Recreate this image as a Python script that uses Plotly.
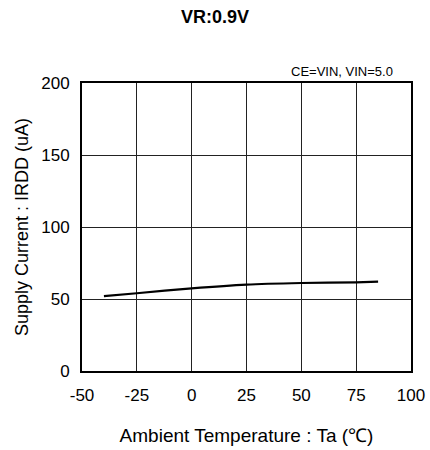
import plotly.graph_objects as go

temps = [-40, -25, 0, 25, 50, 75, 85]
irdd = [52.0, 54.0, 57.4, 60.0, 61.1, 61.6, 62.0]
x_ticks = [-50, -25, 0, 25, 50, 75, 100]
x_tick_text = ["-50", "-25", "0", "25", "50", "75", "100"]
y_ticks = [0, 50, 100, 150, 200]
y_tick_text = ["0", "50", "100", "150", "200"]

FONT = "Liberation Sans, Arial, sans-serif"
W, H = 430, 450

fig = go.Figure()
fig.add_trace(go.Scatter(x=temps, y=irdd, mode="lines",
                         line=dict(color="black", width=2.2, shape="spline", smoothing=0.6),
                         showlegend=False, hoverinfo="skip"))

fig.update_layout(
    width=W, height=H,
    margin=dict(l=82, r=19, t=83, b=79),
    paper_bgcolor="white", plot_bgcolor="white",
    font=dict(family=FONT, color="black"),
    title=dict(text="<b>VR:0.9V</b>", x=0.5, xanchor="center", y=1 - 17 / H, yanchor="middle",
               font=dict(size=18, family=FONT, color="black")),
    annotations=[dict(text="CE=VIN, VIN=5.0", xref="paper", yref="paper", x=0.95, y=1.0,
                      xanchor="right", yanchor="bottom", yshift=2, showarrow=False,
                      font=dict(size=13, family=FONT, color="black"))],
)
fig.update_xaxes(range=[-50, 100], tickvals=x_ticks, ticktext=x_tick_text, showgrid=True,
                 gridcolor="#222", gridwidth=1,
                 showline=True, linecolor="black", linewidth=2, mirror=True, zeroline=False,
                 automargin=False, ticklabeloverflow="allow",
                 ticks="", ticklabelstandoff=8, tickfont=dict(size=17, family=FONT),
                 title=dict(text="Ambient Temperature : Ta (℃)", font=dict(size=19, family=FONT), standoff=24))
fig.update_yaxes(range=[0, 200], tickvals=y_ticks, ticktext=y_tick_text, showgrid=True,
                 gridcolor="#222", gridwidth=1,
                 showline=True, linecolor="black", linewidth=2, mirror=True, zeroline=False,
                 automargin=False,
                 ticks="", ticklabelstandoff=7, tickfont=dict(size=17, family=FONT),
                 title=dict(text="Supply Current : IRDD (uA)", font=dict(size=18, family=FONT), standoff=8))

fig.write_html("out.html", config={"displayModeBar": False, "staticPlot": True},
               post_script="document.body.style.margin='0';document.body.style.overflow='hidden';")
